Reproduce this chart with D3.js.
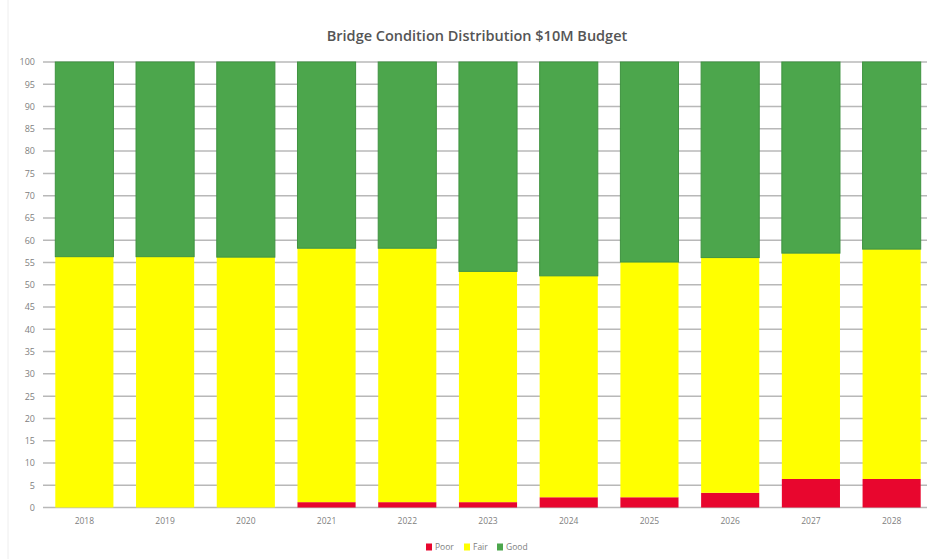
<!DOCTYPE html>
<html><head><meta charset="utf-8">
<script src="https://cdn.jsdelivr.net/npm/d3@7"></script>
<style>body{margin:0;background:#fff;}svg{display:block;}</style>
</head><body>
<svg id="c" width="927" height="559"></svg>
<script>
const years = ["2018","2019","2020","2021","2022","2023","2024","2025","2026","2027","2028"];
const poor = [0,0,0,1.2,1.2,1.2,2.3,2.3,3.3,6.4,6.4];
const fair = [56.3,56.3,56.2,57,57,51.8,49.7,52.8,52.8,50.7,51.6];
const good = years.map((y,i)=>+(100-poor[i]-fair[i]).toFixed(1));
const yTicks = d3.range(0,101,5);
const seriesNames = ["Poor","Fair","Good"];
const colors = {Poor:"#e8062e", Fair:"#ffff00", Good:"#4ca64c"};

const svg = d3.select("#c");
const W=927,H=559;
const x = d3.scaleBand().domain(years).range([44,932]).paddingInner(0.28).paddingOuter(0.14);
const y = d3.scaleLinear().domain([0,100]).range([507.5,62]);

// left faint border
svg.append("line").attr("x1",8).attr("x2",8).attr("y1",0).attr("y2",H).attr("stroke","#eee").attr("stroke-width",1);

// gridlines
svg.append("g").selectAll("line").data(yTicks).join("line")
  .attr("x1",43).attr("x2",W).attr("y1",d=>y(d)).attr("y2",d=>y(d))
  .attr("stroke","#b8b8b8").attr("stroke-width",1.5);

// y axis labels
const yAxis = d3.axisLeft(y).tickValues(yTicks).tickSize(0).tickPadding(0);
const gy = svg.append("g").attr("transform","translate(35,0)").call(yAxis);
gy.select(".domain").remove();
gy.selectAll("text").attr("fill","#808080").attr("font-size","9px").attr("font-family","Open Sans, sans-serif");

// stacked data
const rows = years.map((yr,i)=>({year:yr, Poor:poor[i], Fair:fair[i], Good:good[i]}));
const stack = d3.stack().keys(seriesNames)(rows);
svg.append("g").selectAll("g").data(stack).join("g")
  .attr("fill",d=>colors[d.key])
  .attr("stroke",d=>d.key==="Good"?"#3f9340":"none").attr("stroke-width",1)
  .selectAll("rect").data(d=>d).join("rect")
  .attr("x",d=>x(d.data.year)).attr("width",x.bandwidth())
  .attr("y",d=>y(d[1])).attr("height",d=>Math.max(0,y(d[0])-y(d[1])));

// x axis labels
const xAxis = d3.axisBottom(x).tickSize(0).tickPadding(0);
const gx = svg.append("g").attr("transform","translate(0,518)").call(xAxis);
gx.select(".domain").remove();
gx.selectAll("text").attr("fill","#808080").attr("font-size","8.5px").attr("font-family","Open Sans, sans-serif");

// title
svg.append("text").attr("x",477).attr("y",41).attr("text-anchor","middle")
  .attr("font-family","Open Sans, sans-serif").attr("font-weight","600").attr("font-size","14.5px")
  .attr("fill","#555").text("Bridge Condition Distribution $10M Budget");

// legend
const legX = [426,464,497];
const lg = svg.append("g").selectAll("g").data(seriesNames).join("g")
  .attr("transform",(d,i)=>`translate(${legX[i]},547)`);
lg.append("rect").attr("x",0).attr("y",-3.5).attr("width",6).attr("height",7).attr("fill",d=>colors[d]);
lg.append("text").attr("x",9).attr("y",3).attr("font-size","8.5px").attr("font-family","Open Sans, sans-serif")
  .attr("fill","#808080").text(d=>d);
</script>
</body></html>
